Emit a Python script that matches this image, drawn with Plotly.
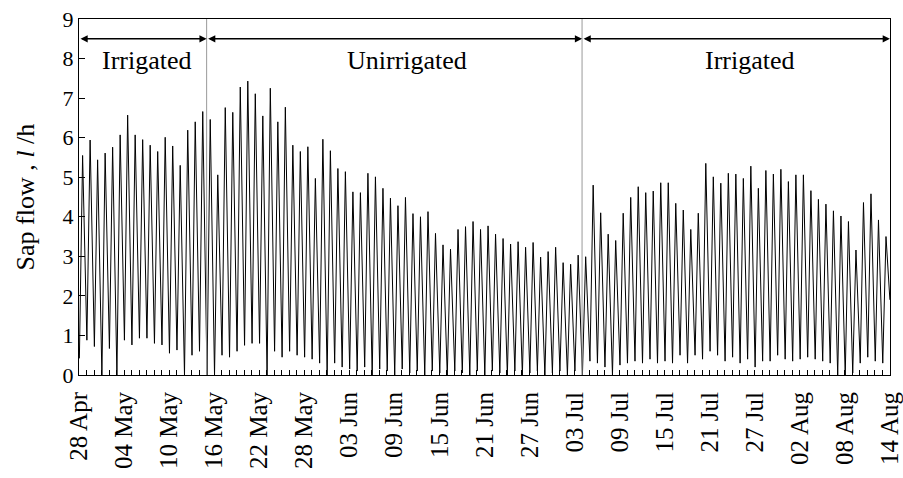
import pandas as pd
import plotly.graph_objects as go

# Daily sap flow: midday peak and pre-dawn minimum (l/h), 28 Apr - 13 Aug
start_date = "2010-04-28"
daily_peak = [
    5.55, 5.94, 5.44, 5.61, 5.76, 6.07, 6.57, 6.07, 5.95, 5.81,
    5.65, 6.01, 5.79, 5.30, 6.19, 6.40, 6.66, 6.46, 5.06, 6.76,
    6.64, 7.28, 7.43, 7.11, 6.55, 7.25, 6.40, 6.77, 5.81, 5.65,
    5.77, 4.97, 5.96, 5.67, 5.22, 5.14, 4.63, 4.61, 5.10, 5.01,
    4.72, 4.47, 4.28, 4.49, 4.08, 4.00, 4.13, 3.58, 3.29, 3.18,
    3.68, 3.75, 3.88, 3.68, 3.77, 3.56, 3.45, 3.31, 3.37, 3.23,
    3.35, 2.98, 3.12, 3.23, 2.84, 2.80, 3.03, 2.99, 4.80, 4.10,
    3.56, 3.40, 4.09, 4.49, 4.76, 4.61, 4.65, 4.86, 4.86, 4.34,
    4.17, 3.68, 4.09, 5.35, 5.01, 4.85, 5.10, 5.08, 4.97, 5.28,
    4.72, 5.17, 5.08, 5.20, 4.89, 5.06, 5.06, 4.66, 4.44, 4.32,
    4.15, 4.02, 3.88, 3.16, 4.36, 4.58, 3.92, 3.50,
]
daily_min = [
    0.42, 0.88, 0.72, 0.00, 0.67, 0.00, 0.88, 0.76, 0.93, 0.93,
    0.80, 0.76, 0.55, 0.63, 0.00, 0.50, 0.60, 0.00, 0.00, 0.50,
    0.45, 0.60, 0.75, 0.80, 0.80, 0.00, 0.60, 0.45, 0.60, 0.50,
    0.45, 0.40, 0.30, 0.00, 0.30, 0.20, 0.15, 0.10, 0.20, 0.00,
    0.15, 0.10, 0.00, 0.15, 0.05, 0.10, 0.00, 0.10, 0.05, 0.00,
    0.10, 0.05, 0.00, 0.10, 0.00, 0.10, 0.05, 0.00, 0.10, 0.00,
    0.05, 0.10, 0.00, 0.05, 0.10, 0.00, 0.10, 0.00, 0.35, 0.30,
    0.20, 0.00, 0.25, 0.30, 0.35, 0.30, 0.40, 0.30, 0.35, 0.30,
    0.50, 0.30, 0.50, 0.40, 0.60, 0.50, 0.35, 0.45, 0.30, 0.40,
    0.20, 0.35, 0.35, 0.50, 0.40, 0.35, 0.40, 0.45, 0.40, 0.35,
    0.30, 0.00, 0.00, 0.05, 0.30, 0.45, 0.35, 0.30,
]
final_value = 1.90  # reading at 14 Aug 00:00

# Treatment periods
period_labels = ["Irrigated", "Unirrigated", "Irrigated"]
period_bounds = ["2010-04-28", "2010-05-15", "2010-07-04", "2010-08-14"]
label_dates = ["2010-05-07 02:00", "2010-06-10 17:00", "2010-07-26 08:00"]

# Diurnal trace: dawn minimum -> midday peak -> next dawn minimum
base = pd.Timestamp(start_date)
xs, ys = [], []
n = len(daily_peak)
for d in range(n):
    xs.append(base + pd.Timedelta(days=d + 0.05))
    ys.append(daily_min[d])
    xs.append(base + pd.Timedelta(days=d + 0.48))
    ys.append(daily_peak[d])
xs.append(base + pd.Timedelta(days=n))
ys.append(final_value)

fig = go.Figure()
fig.add_trace(go.Scatter(x=xs, y=ys, mode="lines",
                         line=dict(color="black", width=1),
                         hoverinfo="skip", showlegend=False))

serif = "Liberation Serif, Times New Roman, serif"

shapes = []
for b in period_bounds[1:-1]:
    shapes.append(dict(type="line", xref="x", yref="paper", x0=b, x1=b,
                       y0=0, y1=1, line=dict(color="#9a9a9a", width=1)))

annotations = []
for i, lab in enumerate(period_labels):
    annotations.append(dict(
        x=period_bounds[i + 1], y=8.5, ax=period_bounds[i], ay=8.5,
        xref="x", yref="y", axref="x", ayref="y", text="",
        showarrow=True, arrowhead=2, startarrowhead=2, arrowside="end+start",
        arrowsize=0.9, startarrowsize=0.9, arrowwidth=1.6, arrowcolor="black",
        standoff=0, startstandoff=0))
    annotations.append(dict(
        x=label_dates[i], y=7.94, xref="x", yref="y", text=lab,
        showarrow=False, font=dict(family=serif, size=26, color="black"),
        xanchor="center", yanchor="middle"))

annotations.append(dict(
    x=-0.066, y=0.5, xref="paper", yref="paper",
    text="Sap flow , <i>l</i> /h", textangle=-90, showarrow=False,
    font=dict(family=serif, size=26, color="black"),
    xanchor="center", yanchor="middle"))

end = base + pd.Timedelta(days=n)
# tick dates every 6 days, including the closing 14 Aug
tick_dates = [base + pd.Timedelta(days=k) for k in range(0, n + 1, 6)]

fig.update_layout(
    width=903, height=478,
    margin=dict(l=79, r=13, t=19, b=103),
    paper_bgcolor="white", plot_bgcolor="white",
    font=dict(family=serif, color="black"),
    shapes=shapes, annotations=annotations,
    xaxis=dict(
        type="date", range=[base, end + pd.Timedelta(minutes=20)],
        automargin=False,
        tickmode="array", tickvals=tick_dates,
        tickformat="%d %b", tickangle=-90, ticklabelstandoff=6,
        ticklabeloverflow="allow",
        tickfont=dict(family=serif, size=25, color="black"),
        ticks="inside", ticklen=5, tickcolor="black",
        minor=dict(ticks="inside", tickmode="linear", tick0=base,
                   dtick=86400000, ticklen=5,
                   tickcolor="black", showgrid=False),
        showline=True, linecolor="black", linewidth=1, mirror=True,
        showgrid=False, zeroline=False),
    yaxis=dict(
        range=[0, 9], tickmode="linear", tick0=0, dtick=1, automargin=False,
        tickfont=dict(family=serif, size=22, color="black"),
        ticks="inside", ticklen=6, tickcolor="black",
        showline=True, linecolor="black", linewidth=1, mirror=True,
        showgrid=False, zeroline=False),
)

fig.write_html("out.html")
